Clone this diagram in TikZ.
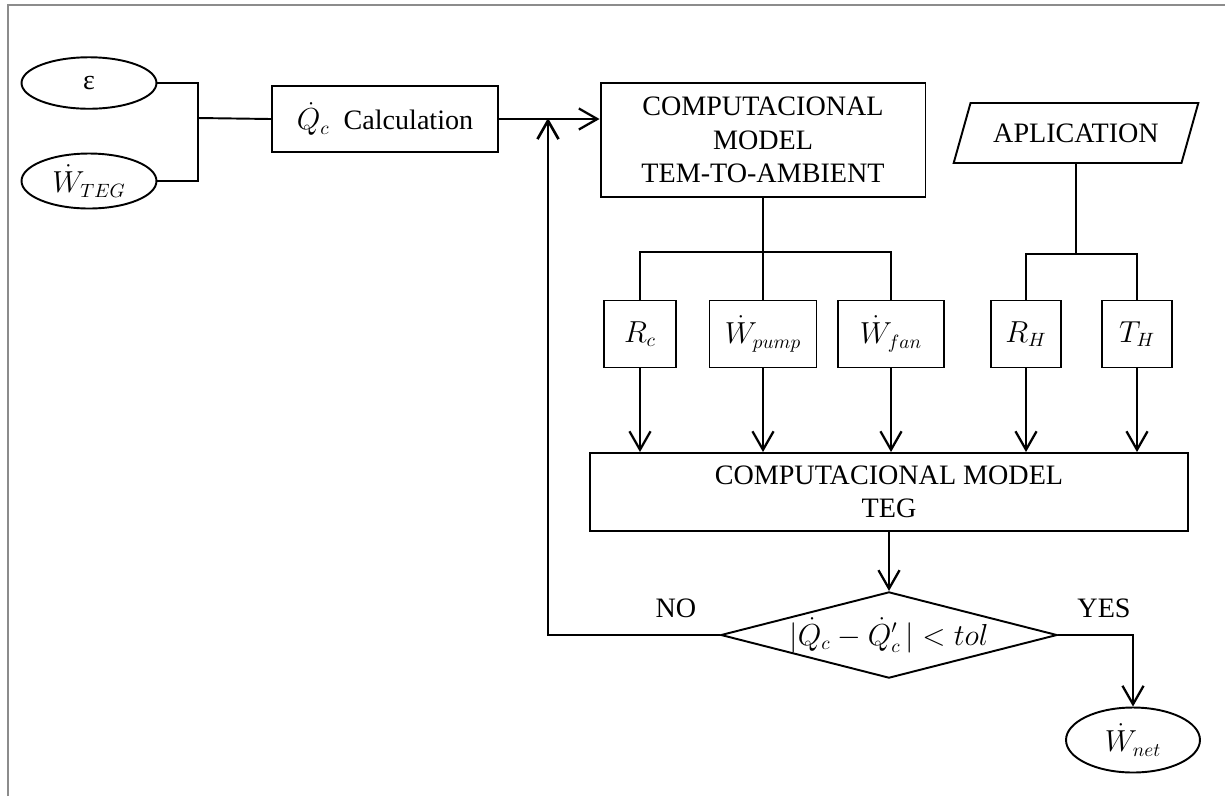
\documentclass[tikz,border=0pt]{standalone}
\usepackage{fontspec}
\setmainfont{Liberation Serif}
\usetikzlibrary{arrows.meta, shapes.geometric}

\begin{document}
\begin{tikzpicture}[x=0.02cm, y=-0.02cm, line width=1.1pt,
  font=\fontsize{16}{19}\selectfont,
  box/.style={draw, rectangle, inner sep=2pt, align=center},
  oval/.style={draw, ellipse, inner sep=0pt, minimum width=2.7cm, minimum height=1.08cm},
  par/.style={draw, rectangle, inner sep=0pt, minimum height=1.34cm},
  arr/.style={-{Straight Barb[length=10.5pt, width=12pt]}, line width=1.3pt}]

\useasboundingbox (0,0) rectangle (1225,796);

% grey frame on the top and left side only
\draw[black!45, line width=1.2pt] (8,796) -- (8,5) -- (1225,5);

% inputs on the left
\node[oval, minimum height=1.03cm] (eps) at (89,83) {ε};
\node[oval, minimum height=1.1cm] (wteg) at (89,181) {$\dot{W}_{TEG}$};
\coordinate (jin) at (198,118);
\draw (eps.east) -| (jin);
\draw (wteg.east) -| (jin);

% heat flow calculation
\node[box, minimum width=4.52cm, minimum height=1.32cm] (calc) at (385,119) {$\dot{Q}_c$\ \ Calculation};
\draw (jin) -- (calc.west);

% model of the cold side
\node[box, minimum width=6.5cm, minimum height=2.28cm] (ctam) at (763,140)
  {COMPUTACIONAL\\MODEL\\TEM-TO-AMBIENT};
\draw[arr] (calc.east) -- (calc.east -| ctam.west);

% application (parallelogram)
\node[draw, trapezium, trapezium left angle=55, trapezium right angle=125,
  trapezium stretches=true, minimum width=4.9cm, minimum height=1.2cm,
  inner sep=0pt] (app) at (1076,133) {APLICATION};

% parameter boxes
\node[par, minimum width=1.44cm] (rc) at (640,334) {$R_c$};
\node[par, minimum width=2.14cm] (wpump) at (763,334) {$\dot{W}_{pump}$};
\node[par, minimum width=2.12cm] (wfan) at (891,334) {$\dot{W}_{fan}$};
\node[par, minimum width=1.4cm] (rh) at (1026,334) {$R_H$};
\node[par, minimum width=1.4cm] (th) at (1137,334) {$T_H$};

% branching lines
\coordinate (busc) at (763,252);
\coordinate (busa) at (1076,254);
\draw (ctam.south) -- (wpump.north);
\draw (rc.north) |- (busc) -| (wfan.north);
\draw (app.south) -- (busa);
\draw (rh.north) |- (busa) -| (th.north);

% model of the generator
\node[box, minimum width=11.98cm, minimum height=1.56cm] (teg) at (889,492)
  {COMPUTACIONAL MODEL\\TEG};
\foreach \n in {rc,wpump,wfan,rh,th}
  \draw[arr] (\n.south) -- (\n.south |- teg.north);

% convergence test
\node[draw, diamond, aspect=3.9, minimum width=6.56cm, minimum height=1.68cm, inner sep=0pt] (dec) at (889,635)
  {$|\dot{Q}_c - \dot{Q}_c'\,| < tol$};
\draw[arr] (teg.south) -- (dec.north);

% loop back when not converged
\coordinate (fb) at (548,118);
\draw[arr, line width=1.5pt] (dec.west) -| (fb);
\node (no) at (676,608) {NO};

% output
\node[oval, minimum width=2.68cm, minimum height=1.3cm] (wnet) at (1133,740) {$\dot{W}_{net}$};
\draw[arr] (dec.east) -| (wnet.north);
\node (yes) at (1104,608) {YES};

\end{tikzpicture}
\end{document}
